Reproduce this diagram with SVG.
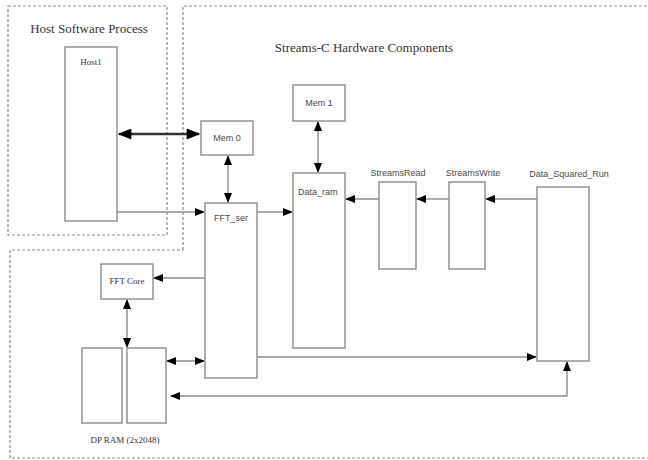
<svg xmlns="http://www.w3.org/2000/svg" width="648" height="460" viewBox="0 0 648 460">
<style>
.bg{fill:#ffffff}
.box{fill:#ffffff;stroke:#8c8c8c;stroke-width:1.4}
.dash{fill:none;stroke:#8c8c8c;stroke-width:1.2;stroke-dasharray:3,2}
.ln{fill:none;stroke:#8c8c8c;stroke-width:1.4}
.thick{fill:none;stroke:#333333;stroke-width:2.6}
.ser{font-family:"Liberation Serif","DejaVu Serif",serif;fill:#333333}
.san{font-family:"Liberation Sans","DejaVu Sans",sans-serif;fill:#4a4a4a}
.t1{font-size:13px}
.t2{font-size:9px}
</style>
<defs>
<marker id="ah" viewBox="0 0 10 8" refX="9" refY="4" markerWidth="10" markerHeight="8" markerUnits="userSpaceOnUse" orient="auto-start-reverse">
<path d="M0,0 L10,4 L0,8 Z" fill="#000000"/>
</marker>
<marker id="ahb" viewBox="0 0 10 8" refX="9" refY="4" markerWidth="16" markerHeight="11" markerUnits="userSpaceOnUse" orient="auto-start-reverse">
<path d="M0,0 L10,4 L0,8 Z" fill="#000000"/>
</marker>
</defs>
<rect class="bg" x="0" y="0" width="648" height="460"/>
<g id="regions">
<rect class="dash" x="8" y="6" width="159" height="229"/>
<path class="dash" d="M183,250 V6 H650 M650,458 H10 V250 H183"/>
<text class="ser t1" x="89" y="33" text-anchor="middle">Host Software Process</text>
<text class="ser t1" x="364" y="52" text-anchor="middle" font-size="13.5">Streams-C Hardware Components</text>
</g>
<g id="connectors">
<line class="thick" x1="119" y1="134" x2="199" y2="134" marker-start="url(#ahb)" marker-end="url(#ahb)"/>
<line class="ln" x1="117" y1="212" x2="204" y2="212" marker-end="url(#ah)"/>
<line class="ln" x1="228" y1="156" x2="228" y2="202" marker-start="url(#ah)" marker-end="url(#ah)"/>
<line class="ln" x1="318" y1="122" x2="318" y2="172" marker-start="url(#ah)" marker-end="url(#ah)"/>
<line class="ln" x1="257" y1="212" x2="292" y2="212" marker-end="url(#ah)"/>
<line class="ln" x1="537" y1="199" x2="486" y2="199" marker-end="url(#ah)"/>
<line class="ln" x1="449" y1="199" x2="417" y2="199" marker-end="url(#ah)"/>
<line class="ln" x1="379" y1="199" x2="346" y2="199" marker-end="url(#ah)"/>
<line class="ln" x1="205" y1="278" x2="154" y2="278" marker-end="url(#ah)"/>
<line class="ln" x1="127" y1="300" x2="127" y2="347" marker-start="url(#ah)" marker-end="url(#ah)"/>
<line class="ln" x1="167" y1="361" x2="204" y2="361" marker-start="url(#ah)" marker-end="url(#ah)"/>
<line class="ln" x1="257" y1="357" x2="536" y2="357" marker-end="url(#ah)"/>
<polyline class="ln" points="171,396 567,396 567,362" marker-start="url(#ah)" marker-end="url(#ah)"/>
</g>
<g id="host1">
<rect class="box" x="65" y="47" width="52" height="174"/>
<text class="ser t2" x="91" y="65" text-anchor="middle">Host1</text>
</g>
<g id="mem0">
<rect class="box" x="201" y="121" width="52" height="34"/>
<text class="san t2" x="227" y="141" text-anchor="middle">Mem 0</text>
</g>
<g id="mem1">
<rect class="box" x="293" y="85" width="52" height="36"/>
<text class="san t2" x="319" y="106" text-anchor="middle">Mem 1</text>
</g>
<g id="fft_ser">
<rect class="box" x="205" y="203" width="52" height="175"/>
<text class="san t2" x="231" y="221" text-anchor="middle">FFT_ser</text>
</g>
<g id="data_ram">
<rect class="box" x="293" y="173" width="52" height="175"/>
<text class="san t2" x="298" y="195">Data_ram</text>
</g>
<g id="streamread">
<rect class="box" x="379" y="182" width="37" height="87"/>
<text class="san t2" x="398" y="176" text-anchor="middle">StreamsRead</text>
</g>
<g id="streamwrite">
<rect class="box" x="449" y="182" width="36" height="87"/>
<text class="san t2" x="473" y="176" text-anchor="middle">StreamsWrite</text>
</g>
<g id="data_squared_run">
<rect class="box" x="537" y="187" width="52" height="174"/>
<text class="san t2" x="569" y="177" text-anchor="middle">Data_Squared_Run</text>
</g>
<g id="fft_core">
<rect class="box" x="101" y="264" width="52" height="35"/>
<text class="ser t2" x="127" y="284" text-anchor="middle">FFT Core</text>
</g>
<g id="dp_ram">
<rect class="box" x="82" y="348" width="40" height="75"/>
<rect class="box" x="127" y="348" width="39" height="75"/>
<text class="ser t2" x="125" y="443" text-anchor="middle">DP RAM (2x2048)</text>
</g>
</svg>
